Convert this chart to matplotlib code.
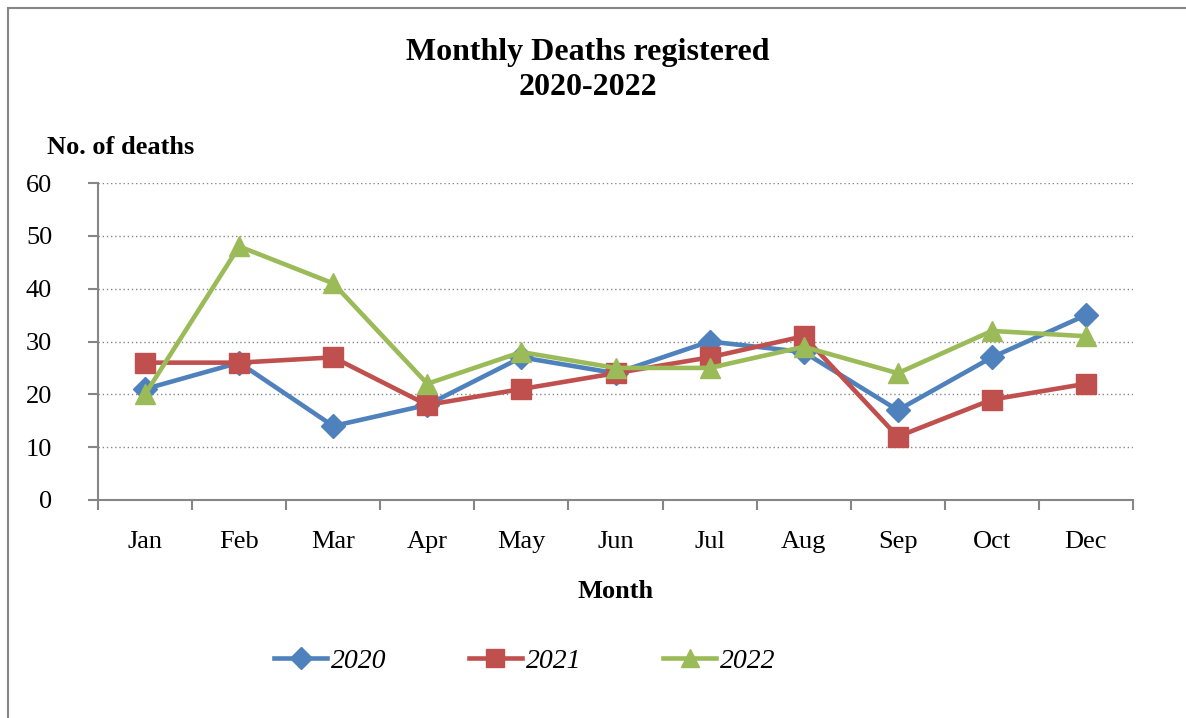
import matplotlib
matplotlib.use("Agg")
from matplotlib import pyplot as plt
from matplotlib.patches import Rectangle

months = ["Jan", "Feb", "Mar", "Apr", "May", "Jun", "Jul", "Aug", "Sep", "Oct", "Dec"]
deaths_2020 = [21, 26, 14, 18, 27, 24, 30, 28, 17, 27, 35]
deaths_2021 = [26, 26, 27, 18, 21, 24, 27, 31, 12, 19, 22]
deaths_2022 = [20, 48, 41, 22, 28, 25, 25, 29, 24, 32, 31]

BLUE = "#4F81BD"
RED = "#C0504D"
GREEN = "#9BBB59"
GREY = "#868686"

plt.rcParams["font.family"] = ["Liberation Serif", "DejaVu Serif"]

fig = plt.figure(figsize=(11.86, 7.18), dpi=100)
# outer chart frame
fig.patches.append(Rectangle((8 / 1186, -0.1), 1.2, 1 - 8 / 718 + 0.1, transform=fig.transFigure,
                             fill=False, edgecolor=GREY, linewidth=1.5))

ax = fig.add_axes([98 / 1186, 1 - 500 / 718, (1133 - 98) / 1186, (500 - 183) / 718])
x = list(range(len(months)))

ax.plot(x, deaths_2020, "-D", color=BLUE, lw=3.3, ms=12, label="2020", zorder=3)
ax.plot(x, deaths_2021, "-s", color=RED, lw=3.3, ms=14, label="2021", zorder=4)
ax.plot(x, deaths_2022, "-^", color=GREEN, lw=3.3, ms=15, label="2022", zorder=5)

ax.set_xlim(-0.5, len(months) - 0.5)
ax.set_ylim(0, 60)
ax.set_yticks(range(0, 61, 10))
ax.set_xticks(x)
ax.set_xticklabels(months)
ax.set_xticks([i - 0.5 for i in range(len(months) + 1)], minor=True)
ax.tick_params(axis="x", which="major", length=0, pad=22, labelsize=19)
ax.tick_params(axis="x", which="minor", length=7, width=1.5, color=GREY, direction="out")
ax.tick_params(axis="y", length=7, width=1.5, color=GREY, labelsize=19, pad=26)

for side in ["top", "right"]:
    ax.spines[side].set_visible(False)
for side in ["left", "bottom"]:
    ax.spines[side].set_color(GREY)
    ax.spines[side].set_linewidth(1.5)

ax.yaxis.grid(True, linestyle=(0, (1, 2)), color=GREY, linewidth=1)
ax.set_axisbelow(True)

fig.text(588 / 1186, 1 - 70 / 718, "Monthly Deaths registered\n2020-2022", ha="center", va="center",
         fontsize=23, fontweight="bold", linespacing=1.3)
fig.text(47 / 1186, 1 - 147 / 718, "No. of deaths", ha="left", va="center", fontsize=19, fontweight="bold")
fig.text(616 / 1186, 1 - 591 / 718, "Month", ha="center", va="center", fontsize=19, fontweight="bold")

fig.legend(loc="center", bbox_to_anchor=(525 / 1186, 1 - 661 / 718), ncol=3, frameon=False,
           prop={"style": "italic", "size": 20}, handlelength=1.9, handletextpad=0.15,
           columnspacing=2.95, markerscale=0.9)

fig.savefig("out.png", dpi=100)
